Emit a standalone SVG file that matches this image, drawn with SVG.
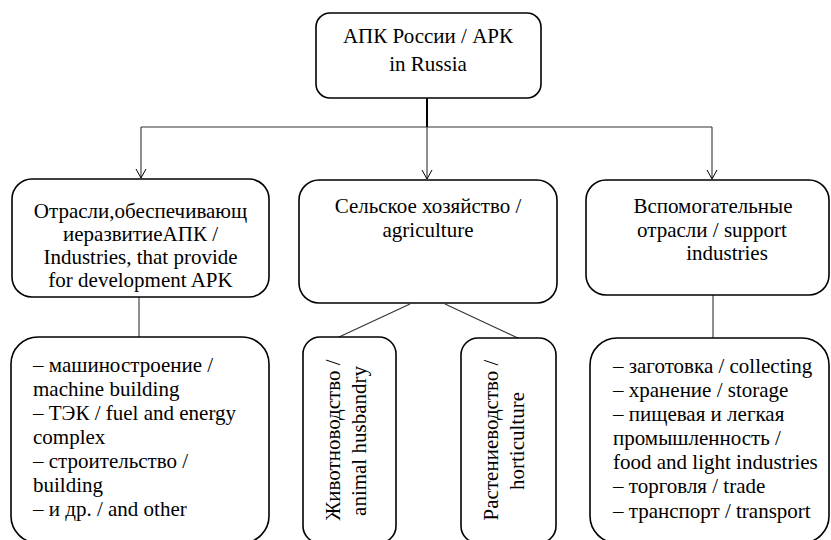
<svg xmlns="http://www.w3.org/2000/svg" width="831" height="540" viewBox="0 0 831 540">
<defs>
<style>
.box{fill:#fff;stroke:#000;stroke-width:1.6}
.t{font-family:'Liberation Serif', 'DejaVu Serif', serif;font-size:21px;fill:#000}
.c{text-anchor:middle}
.ln{stroke:#333;stroke-width:1.1;fill:none}
</style>
<marker id="arr" markerWidth="12" markerHeight="12" refX="10" refY="6" orient="auto" markerUnits="userSpaceOnUse">
<path d="M1,1 L10,6 L1,11" fill="none" stroke="#000" stroke-width="1"/>
</marker>
</defs>
<rect width="831" height="540" fill="#fff"/>
<g id="connectors">
<line x1="427" y1="98" x2="427" y2="127" stroke="#000" stroke-width="2"/>
<line class="ln" x1="141" y1="127" x2="712" y2="127"/>
<line class="ln" x1="141" y1="127" x2="141" y2="178" marker-end="url(#arr)"/>
<line class="ln" x1="427" y1="127" x2="427" y2="179" marker-end="url(#arr)"/>
<line class="ln" x1="712" y1="127" x2="712" y2="179" marker-end="url(#arr)"/>
<line class="ln" x1="139" y1="297" x2="139" y2="337"/>
<line class="ln" x1="410" y1="304" x2="339" y2="337"/>
<line class="ln" x1="445" y1="304" x2="520" y2="339"/>
<line class="ln" x1="713" y1="295" x2="713" y2="338"/>
</g>
<g id="apk">
<rect class="box" x="316" y="13" width="225" height="85" rx="14"/>
<text class="t c" x="428" y="43" font-family="Liberation Serif">АПК России / АРК</text>
<text class="t c" x="428" y="71">in Russia</text>
</g>
<g id="industries">
<rect class="box" x="12" y="179" width="257" height="118" rx="20"/>
<text class="t c" x="140.5" y="218">Отрасли,обеспечивающ</text>
<text class="t c" x="140.5" y="241">иеразвитиеАПК /</text>
<text class="t c" x="140.5" y="264">Industries, that provide</text>
<text class="t c" x="140.5" y="287">for development APK</text>
</g>
<g id="agriculture">
<rect class="box" x="299" y="180" width="258" height="123" rx="20"/>
<text class="t c" x="428" y="213">Сельское хозяйство /</text>
<text class="t c" x="428" y="237">agriculture</text>
</g>
<g id="support">
<rect class="box" x="586" y="180" width="243" height="115" rx="20"/>
<text class="t c" x="713" y="213">Вспомогательные</text>
<text class="t c" x="712" y="237">отрасли / support</text>
<text class="t c" x="727" y="260">industries</text>
</g>
<g id="industries-list">
<rect class="box" x="11" y="337" width="258" height="206" rx="27"/>
<text class="t" x="33" y="372">– машиностроение /</text>
<text class="t" x="33" y="396">machine building</text>
<text class="t" x="33" y="420">– ТЭК / fuel and energy</text>
<text class="t" x="33" y="444">complex</text>
<text class="t" x="33" y="468">– строительство /</text>
<text class="t" x="33" y="492">building</text>
<text class="t" x="33" y="516">– и др. / and other</text>
</g>
<g id="animal">
<rect class="box" x="303" y="337" width="93" height="206" rx="17"/>
<text class="t c" transform="translate(340,440) rotate(-90)">Животноводство /</text>
<text class="t c" transform="translate(366,441) rotate(-90)">animal husbandry</text>
</g>
<g id="horticulture">
<rect class="box" x="461" y="338" width="95" height="205" rx="17"/>
<text class="t c" transform="translate(498,440) rotate(-90)">Растениеводство /</text>
<text class="t c" transform="translate(524,441) rotate(-90)">horticulture</text>
</g>
<g id="support-list">
<rect class="box" x="590" y="338" width="239" height="205" rx="27"/>
<text class="t" x="613" y="373">– заготовка / collecting</text>
<text class="t" x="613" y="397">– хранение / storage</text>
<text class="t" x="613" y="421">– пищевая и легкая</text>
<text class="t" x="613" y="445">промышленность /</text>
<text class="t" x="613" y="469">food and light industries</text>
<text class="t" x="613" y="493">– торговля / trade</text>
<text class="t" x="613" y="518">– транспорт / transport</text>
</g>
</svg>
